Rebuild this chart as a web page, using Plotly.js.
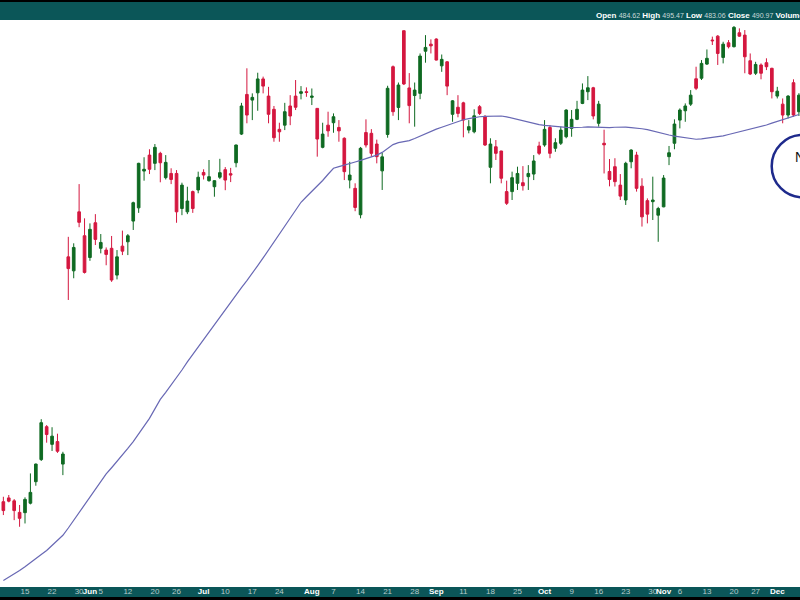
<!DOCTYPE html>
<html>
<head>
<meta charset="utf-8">
<script src="https://cdn.plot.ly/plotly-3.0.1.min.js"></script>
<style>html,body{margin:0;padding:0;background:#fff;}#chart{width:800px;height:600px;}</style>
</head>
<body>
<div id="chart"></div>
<script>
const dates = [
"2023-05-09","2023-05-10","2023-05-11","2023-05-12","2023-05-15","2023-05-16","2023-05-17","2023-05-18","2023-05-19","2023-05-22","2023-05-23","2023-05-24","2023-05-25","2023-05-26","2023-05-30","2023-05-31",
"2023-06-01","2023-06-02","2023-06-05","2023-06-06","2023-06-07","2023-06-08","2023-06-09","2023-06-12","2023-06-13","2023-06-14","2023-06-15","2023-06-16","2023-06-20","2023-06-21","2023-06-22","2023-06-23","2023-06-26","2023-06-27","2023-06-28","2023-06-29","2023-06-30",
"2023-07-03","2023-07-05","2023-07-06","2023-07-07","2023-07-10","2023-07-11","2023-07-12","2023-07-13","2023-07-14","2023-07-17","2023-07-18","2023-07-19","2023-07-20","2023-07-21","2023-07-24","2023-07-25","2023-07-26","2023-07-27","2023-07-28","2023-07-31",
"2023-08-01","2023-08-02","2023-08-03","2023-08-04","2023-08-07","2023-08-08","2023-08-09","2023-08-10","2023-08-11","2023-08-14","2023-08-15","2023-08-16","2023-08-17","2023-08-18","2023-08-21","2023-08-22","2023-08-23","2023-08-24","2023-08-25","2023-08-28","2023-08-29","2023-08-30","2023-08-31",
"2023-09-01","2023-09-05","2023-09-06","2023-09-07","2023-09-08","2023-09-11","2023-09-12","2023-09-13","2023-09-14","2023-09-15","2023-09-18","2023-09-19","2023-09-20","2023-09-21","2023-09-22","2023-09-25","2023-09-26","2023-09-27","2023-09-28","2023-09-29",
"2023-10-02","2023-10-03","2023-10-04","2023-10-05","2023-10-06","2023-10-09","2023-10-10","2023-10-11","2023-10-12","2023-10-13","2023-10-16","2023-10-17","2023-10-18","2023-10-19","2023-10-20","2023-10-23","2023-10-24","2023-10-25","2023-10-26","2023-10-27","2023-10-30","2023-10-31",
"2023-11-01","2023-11-02","2023-11-03","2023-11-06","2023-11-07","2023-11-08","2023-11-09","2023-11-10","2023-11-13","2023-11-14","2023-11-15","2023-11-16","2023-11-17","2023-11-20","2023-11-21","2023-11-22","2023-11-24","2023-11-27","2023-11-28","2023-11-29","2023-11-30",
"2023-12-01","2023-12-04","2023-12-05","2023-12-06","2023-12-07"
];
const openP = [288.5,289.8,288.8,284.9,284.8,288.0,295.4,303.2,315.2,308.7,309.7,301.6,385.1,378.8,406.1,394.8,
384.8,400.9,389.0,388.2,389.0,376.9,390.0,392.0,401.7,408.0,426.1,434.2,430.0,435.1,422.8,424.9,424.9,407.7,406.1,415.9,416.7,
425.4,421.3,418.3,423.0,426.8,424.8,430.3,445.1,466.4,463.3,467.3,475.0,465.5,458.3,447.6,449.8,460.1,465.5,467.0,467.9,
464.8,458.8,438.2,449.8,451.1,448.6,442.9,421.6,417.5,404.7,445.9,445.5,439.9,426.2,444.9,481.9,459.3,502.8,470.0,465.8,467.0,490.8,494.9,
497.9,482.4,484.7,455.6,459.4,461.8,447.2,446.3,459.7,454.3,428.0,438.5,436.3,415.9,415.9,420.0,420.3,423.3,424.6,438.9,
439.4,448.6,437.7,440.3,443.7,448.1,452.9,461.5,467.9,470.1,450.8,440.3,425.9,428.3,419.1,411.8,430.8,434.2,418.6,411.5,411.0,404.5,
408.5,433.4,440.3,452.5,457.5,461.1,475.1,475.4,483.4,497.3,499.6,487.2,495.7,493.4,501.6,500.2,485.3,478.2,482.9,484.2,481.0,
465.5,461.1,455.2,472.9,457.0];
const highP = [290.2,290.8,289.4,287.4,290.0,298.3,301.8,318.0,315.8,315.0,312.6,306.0,394.3,391.3,419.6,403.0,
400.6,405.0,395.6,389.4,394.7,388.2,397.2,395.6,411.0,430.3,433.1,437.2,439.9,435.9,434.2,427.5,426.6,420.3,418.3,416.4,425.8,
427.0,431.7,421.5,432.3,428.1,427.7,439.6,461.8,481.0,467.0,478.5,476.3,470.6,460.1,451.1,461.8,466.0,474.4,471.0,470.3,
469.7,459.0,451.1,457.0,456.1,452.5,443.4,430.8,420.0,438.4,452.9,447.7,442.2,435.3,471.2,482.6,473.0,502.9,478.3,473.0,489.5,500.2,497.7,
498.3,488.9,485.1,463.3,466.0,462.4,452.5,458.3,460.6,455.2,442.9,442.0,436.4,421.3,425.8,428.3,428.6,429.1,434.2,441.1,
452.5,449.8,442.9,449.0,458.3,457.9,462.9,472.5,476.6,470.6,462.9,447.4,432.2,432.6,424.6,430.8,437.2,435.9,422.5,412.6,423.3,408.5,
424.1,438.9,452.9,458.8,461.5,468.8,481.9,485.7,491.8,499.3,500.2,496.3,497.3,505.6,504.2,503.2,489.5,484.7,483.8,486.7,481.3,
470.6,464.2,466.0,474.8,467.1];
const lowP = [284.0,288.3,282.3,280.1,281.2,287.6,294.0,302.7,309.3,306.3,305.6,297.7,366.0,375.5,398.8,377.6,
383.3,390.5,386.7,381.3,373.9,375.0,385.9,385.9,397.5,405.6,421.3,424.6,426.6,420.5,421.9,419.6,400.9,404.5,405.0,405.6,415.1,
421.9,420.8,413.4,422.1,416.6,420.6,428.0,444.6,450.8,452.5,457.5,467.0,450.8,441.1,441.1,447.2,449.8,457.9,463.7,465.1,
460.6,433.4,437.7,443.7,445.8,441.1,421.6,417.5,406.4,403.0,438.1,433.4,430.0,416.7,443.2,454.8,452.5,471.6,450.8,449.0,463.8,484.2,489.5,
485.5,479.0,466.0,451.6,454.0,443.4,445.5,445.5,455.2,438.9,420.0,431.7,420.0,409.4,411.8,416.7,416.4,416.7,421.6,434.2,
438.5,432.6,435.9,439.4,442.9,443.7,452.5,461.1,463.3,452.9,449.0,424.9,418.5,418.4,411.8,409.4,427.5,415.9,399.1,400.6,402.2,392.0,
408.3,429.1,437.2,448.1,451.6,460.1,468.8,474.4,482.9,494.4,482.9,483.8,492.4,493.0,499.2,478.2,477.2,477.2,474.8,480.0,464.2,
464.2,450.8,453.4,454.3,454.7];
const closeP = [285.5,288.7,285.5,282.9,289.3,291.7,301.6,316.7,312.3,311.7,306.2,305.2,379.8,389.4,401.1,378.1,
397.8,393.1,391.7,386.2,374.7,385.1,387.7,394.8,410.5,430.0,427.0,427.0,438.2,430.3,430.5,421.9,406.1,419.1,411.3,407.7,423.0,
424.1,423.3,421.3,425.3,421.6,424.1,439.4,460.1,455.2,464.8,475.0,471.0,455.6,443.2,446.3,457.0,454.7,459.4,467.9,467.5,
465.5,442.5,445.1,446.8,454.3,446.8,425.8,424.1,408.2,437.7,439.4,435.1,433.4,433.3,469.8,457.0,471.6,472.2,460.3,468.8,488.0,493.0,493.9,
485.7,486.1,471.0,462.9,456.1,452.5,449.0,454.8,456.1,439.4,439.9,435.1,422.5,410.2,422.8,424.9,418.8,424.9,431.2,435.1,
447.6,435.1,440.6,447.2,457.9,452.9,458.3,468.8,470.1,454.7,461.1,439.5,421.9,420.8,413.7,430.0,436.8,417.5,403.7,405.0,411.8,407.7,
422.6,435.4,450.4,457.9,460.1,466.0,469.8,483.8,486.7,496.9,489.5,494.9,493.4,504.8,499.6,487.6,477.8,483.2,478.2,481.9,467.9,
468.2,455.2,465.5,455.2,466.0];
const movingAvg = [262.9,263.9,264.9,266.0,267.2,268.4,269.8,271.1,272.4,274.1,
275.7,277.3,279.7,282.3,284.9,287.5,290.2,292.8,295.4,298.1,
300.3,302.5,304.8,307.2,309.7,312.4,315.1,318.3,321.9,325.5,
328.2,331.0,333.9,337.0,340.2,343.2,346.4,349.6,352.6,355.8,
359.0,362.2,365.4,368.4,371.4,374.5,377.6,381.1,384.6,388.2,
391.7,395.4,399.1,402.8,406.8,410.7,413.4,416.0,418.6,421.4,
424.5,427.5,428.3,429.0,429.9,430.7,431.5,432.4,433.3,434.2,
435.6,437.6,439.6,440.6,441.2,441.7,442.8,444.1,445.5,446.7,
447.7,448.7,449.7,450.8,451.8,452.7,453.3,453.9,454.3,454.5,
454.7,454.8,454.7,454.2,453.5,452.8,452.1,451.3,450.6,450.1,
449.7,449.4,449.0,448.8,448.6,448.5,448.5,448.7,448.9,448.8,
448.7,448.5,448.5,448.7,448.8,448.8,448.5,448.3,447.9,447.4,
446.8,446.1,445.3,444.6,444.0,443.6,443.2,442.8,442.4,442.6,
442.9,443.2,443.6,444.2,444.9,445.6,446.3,446.9,447.6,448.4,
449.1,449.9,450.9,451.8,452.8,453.7,454.6,455.5];
const tickDates = ["2023-05-15","2023-05-22","2023-05-30","2023-06-01","2023-06-05","2023-06-12","2023-06-20","2023-06-26","2023-07-03","2023-07-10","2023-07-17","2023-07-24","2023-08-01","2023-08-07","2023-08-14","2023-08-21","2023-08-28","2023-09-01","2023-09-11","2023-09-18","2023-09-25","2023-10-02","2023-10-09","2023-10-16","2023-10-23","2023-10-30","2023-11-01","2023-11-06","2023-11-13","2023-11-20","2023-11-27","2023-12-01"];
const tickLabels = ["15","22","30","Jun","5","12","20","26","Jul","10","17","24","Aug","7","14","21","28","Sep","11","18","25","Oct","9","16","23","30","Nov","6","13","20","27","Dec"];
const months = ["Jun","Jul","Aug","Sep","Oct","Nov","Dec"];
const headerLabels = ["Open","High","Low","Close","Volume"];
const headerValues = ["484.62","495.47","483.06","490.97","41.5M"];

const teal = '#0b5658';
const tickText = tickLabels.map(t => months.includes(t) ? '<b><span style="color:#ffffff">' + t + '</span></b>' : t);
const headerText = headerLabels.map((l, i) =>
  '<b>' + l + '</b> <span style="font-size:7px;color:#c9d9d9">' + headerValues[i] + '</span>').join(' ');

const candles = {
  type: 'candlestick', x: dates, open: openP, high: highP, low: lowP, close: closeP,
  increasing: {line: {color: '#0f6a22', width: 1}, fillcolor: '#0f6a22'},
  decreasing: {line: {color: '#d4173f', width: 1}, fillcolor: '#d4173f'},
  whiskerwidth: 0, hoverinfo: 'skip'
};
const ma = {
  type: 'scatter', mode: 'lines', x: dates, y: movingAvg,
  line: {color: '#6868b4', width: 1.2}, hoverinfo: 'skip'
};

const layout = {
  width: 800, height: 600,
  margin: {l: 0, r: 0, t: 20, b: 13, pad: 0},
  paper_bgcolor: teal, plot_bgcolor: '#ffffff',
  showlegend: false, hovermode: false,
  xaxis: {
    type: 'category', range: [-0.62, 147.2], rangeslider: {visible: false},
    showgrid: false, zeroline: false, showline: false, ticks: '',
    tickmode: 'array', tickvals: tickDates, ticktext: tickText,
    tickfont: {family: 'Liberation Sans, Arial, sans-serif', size: 8, color: '#b8cccc'},
    tickangle: 0, automargin: false, ticklabelstandoff: -2
  },
  yaxis: {
    type: 'log', range: [2.41647, 2.70689], showgrid: false, zeroline: false,
    showline: false, showticklabels: false, ticks: '', automargin: false
  },
  shapes: [
    {type: 'rect', xref: 'paper', yref: 'paper', x0: 0, x1: 1, y0: 585/567, y1: 1.06, fillcolor: '#000000', line: {width: 0}},
    {type: 'rect', xref: 'paper', yref: 'paper', x0: 0, x1: 1, y0: -0.04, y1: -10/567, fillcolor: '#000000', line: {width: 0}},
    {type: 'circle', xref: 'paper', yref: 'paper', x0: 771.7/800, x1: 833.7/800, y0: (587-197.3)/567, y1: (587-135)/567, line: {color: '#1e2a8c', width: 2.5}, fillcolor: 'rgba(0,0,0,0)'}
  ],
  annotations: [
    {xref: 'paper', yref: 'paper', x: 594/800, y: (587-15)/567, xanchor: 'left', yanchor: 'middle', showarrow: false,
     text: headerText, font: {family: 'Liberation Sans, Arial, sans-serif', size: 8, color: '#ffffff'}},
    {xref: 'paper', yref: 'paper', x: 793/800, y: (587-157)/567, xanchor: 'left', yanchor: 'middle', showarrow: false,
     text: 'NVDA', font: {family: 'Liberation Sans, Arial, sans-serif', size: 14, color: '#111111'}}
  ]
};

Plotly.newPlot('chart', [ma, candles], layout, {staticPlot: true, displayModeBar: false});
</script>
</body>
</html>
